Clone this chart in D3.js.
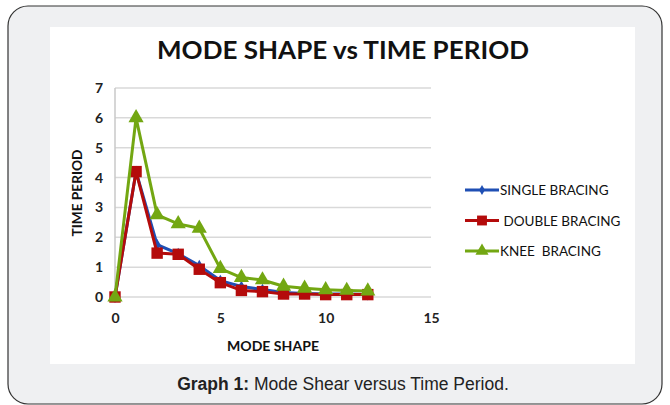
<!doctype html>
<html>
<head>
<meta charset="utf-8">
<style>
  body { margin: 0; background: #fff; }
  svg { display: block; }
</style>
<script src="https://d3js.org/d3.v7.min.js"></script>
</head>
<body>
<svg width="670" height="405"></svg>
<script>
// chart data
var modes = [0, 1, 2, 3, 4, 5, 6, 7, 8, 9, 10, 11, 12];
var singleBracing = [0, 4.2, 1.75, 1.45, 1.05, 0.55, 0.35, 0.25, 0.15, 0.12, 0.1, 0.1, 0.08];
var doubleBracing = [0, 4.2, 1.47, 1.43, 0.93, 0.48, 0.22, 0.18, 0.1, 0.1, 0.08, 0.08, 0.08];
var kneeBracing = [0, 6.0, 2.75, 2.45, 2.3, 0.95, 0.65, 0.57, 0.36, 0.29, 0.24, 0.22, 0.2];
var xTicks = [0, 5, 10, 15];
var yTicks = [0, 1, 2, 3, 4, 5, 6, 7];
var seriesNames = ["SINGLE BRACING", " DOUBLE BRACING", "KNEE  BRACING"];

var svg = d3.select("svg");
var font = "Lato, 'Open Sans', sans-serif";

// outer frame
svg.append("rect")
   .attr("x", 8).attr("y", 6)
   .attr("width", 654).attr("height", 398)
   .attr("rx", 20)
   .attr("fill", "#eff0f2")
   .attr("stroke", "#333")
   .attr("stroke-width", 1.2);

// white chart panel
svg.append("rect")
   .attr("x", 50).attr("y", 27)
   .attr("width", 585).attr("height", 337)
   .attr("fill", "#fff");

svg.append("text")
   .attr("x", 343).attr("y", 59)
   .attr("text-anchor", "middle")
   .attr("font-family", font)
   .attr("font-weight", "bold")
   .attr("font-size", "25px")
   .attr("textLength", 372)
   .attr("lengthAdjust", "spacingAndGlyphs")
   .attr("fill", "#111")
   .text("MODE SHAPE vs TIME PERIOD");

var x = d3.scaleLinear().domain([0, 15]).range([115, 431]);
var y = d3.scaleLinear().domain([0, 7]).range([297, 88]);

// gridlines
svg.append("g")
   .selectAll("line")
   .data(yTicks)
   .enter().append("line")
   .attr("x1", x(0)).attr("x2", x(15))
   .attr("y1", function(d) { return y(d); })
   .attr("y2", function(d) { return y(d); })
   .attr("stroke", "#d9d9d9")
   .attr("stroke-width", 1.5);

svg.append("line")
   .attr("x1", x(0)).attr("x2", x(0))
   .attr("y1", y(0)).attr("y2", y(7))
   .attr("stroke", "#c8c8c8")
   .attr("stroke-width", 1.5);

var yAxis = svg.append("g")
   .attr("transform", "translate(" + (x(0) - 12) + ",0)")
   .call(d3.axisLeft(y).tickValues(yTicks).tickFormat(d3.format("d")).tickSize(0).tickPadding(0));
yAxis.select(".domain").remove();

var xAxis = svg.append("g")
   .attr("transform", "translate(0," + (y(0) + 16) + ")")
   .call(d3.axisBottom(x).tickValues(xTicks).tickFormat(d3.format("d")).tickSize(0).tickPadding(0));
xAxis.select(".domain").remove();

svg.selectAll(".tick text")
   .attr("font-family", font)
   .attr("font-weight", "bold")
   .attr("font-size", "14px")
   .attr("fill", "#222");

svg.append("text")
   .attr("x", 273).attr("y", 351)
   .attr("text-anchor", "middle")
   .attr("font-family", font)
   .attr("font-weight", "bold")
   .attr("font-size", "13px")
   .attr("textLength", 92)
   .attr("lengthAdjust", "spacingAndGlyphs")
   .attr("fill", "#111")
   .text("MODE SHAPE");

svg.append("text")
   .attr("transform", "translate(82,193) rotate(-90)")
   .attr("text-anchor", "middle")
   .attr("font-family", font)
   .attr("font-weight", "bold")
   .attr("font-size", "13px")
   .attr("textLength", 87)
   .attr("lengthAdjust", "spacingAndGlyphs")
   .attr("fill", "#111")
   .text("TIME PERIOD");

var series = [
  { name: seriesNames[0], values: singleBracing, color: "#1f4fb4", shape: d3.symbolDiamond, size: 40 },
  { name: seriesNames[1], values: doubleBracing, color: "#b40b0b", shape: d3.symbolSquare, size: 130 },
  { name: seriesNames[2], values: kneeBracing, color: "#73a712", shape: d3.symbolTriangle, size: 100 }
];

var line = d3.line()
   .x(function(d, i) { return x(modes[i]); })
   .y(function(d) { return y(d); });

series.forEach(function(s) {
  svg.append("path")
     .datum(s.values)
     .attr("d", line)
     .attr("fill", "none")
     .attr("stroke", s.color)
     .attr("stroke-width", 3)
     .attr("stroke-linejoin", "round");

  svg.append("g")
     .selectAll("path")
     .data(s.values)
     .enter().append("path")
     .attr("transform", function(d, i) { return "translate(" + x(modes[i]) + "," + y(d) + ")"; })
     .attr("d", d3.symbol().type(s.shape).size(s.size))
     .attr("fill", s.color);
});

// legend
var legend = svg.append("g")
   .selectAll("g")
   .data(series)
   .enter().append("g")
   .attr("transform", function(d, i) { return "translate(465," + (190 + i * 30.5) + ")"; });

legend.append("line")
   .attr("x1", 0).attr("x2", 34)
   .attr("stroke", function(d) { return d.color; })
   .attr("stroke-width", 3);

legend.append("path")
   .attr("transform", "translate(17,0)")
   .attr("d", function(d) { return d3.symbol().type(d.shape).size(d.size * 0.75)(); })
   .attr("fill", function(d) { return d.color; });

legend.append("text")
   .attr("x", 35).attr("y", 5)
   .attr("font-family", font)
   .attr("font-size", "13.5px")
   .attr("fill", "#111")
   .attr("xml:space", "preserve")
   .style("white-space", "pre")
   .text(function(d) { return d.name; });

// caption
var cap = svg.append("text")
   .attr("x", 343).attr("y", 390)
   .attr("text-anchor", "middle")
   .attr("font-family", "'Liberation Sans', Arial, sans-serif")
   .attr("font-size", "17.5px")
   .attr("fill", "#222");
cap.append("tspan").attr("font-weight", "bold").text("Graph 1:");
cap.append("tspan").text(" Mode Shear versus Time Period.");
</script>
</body>
</html>
